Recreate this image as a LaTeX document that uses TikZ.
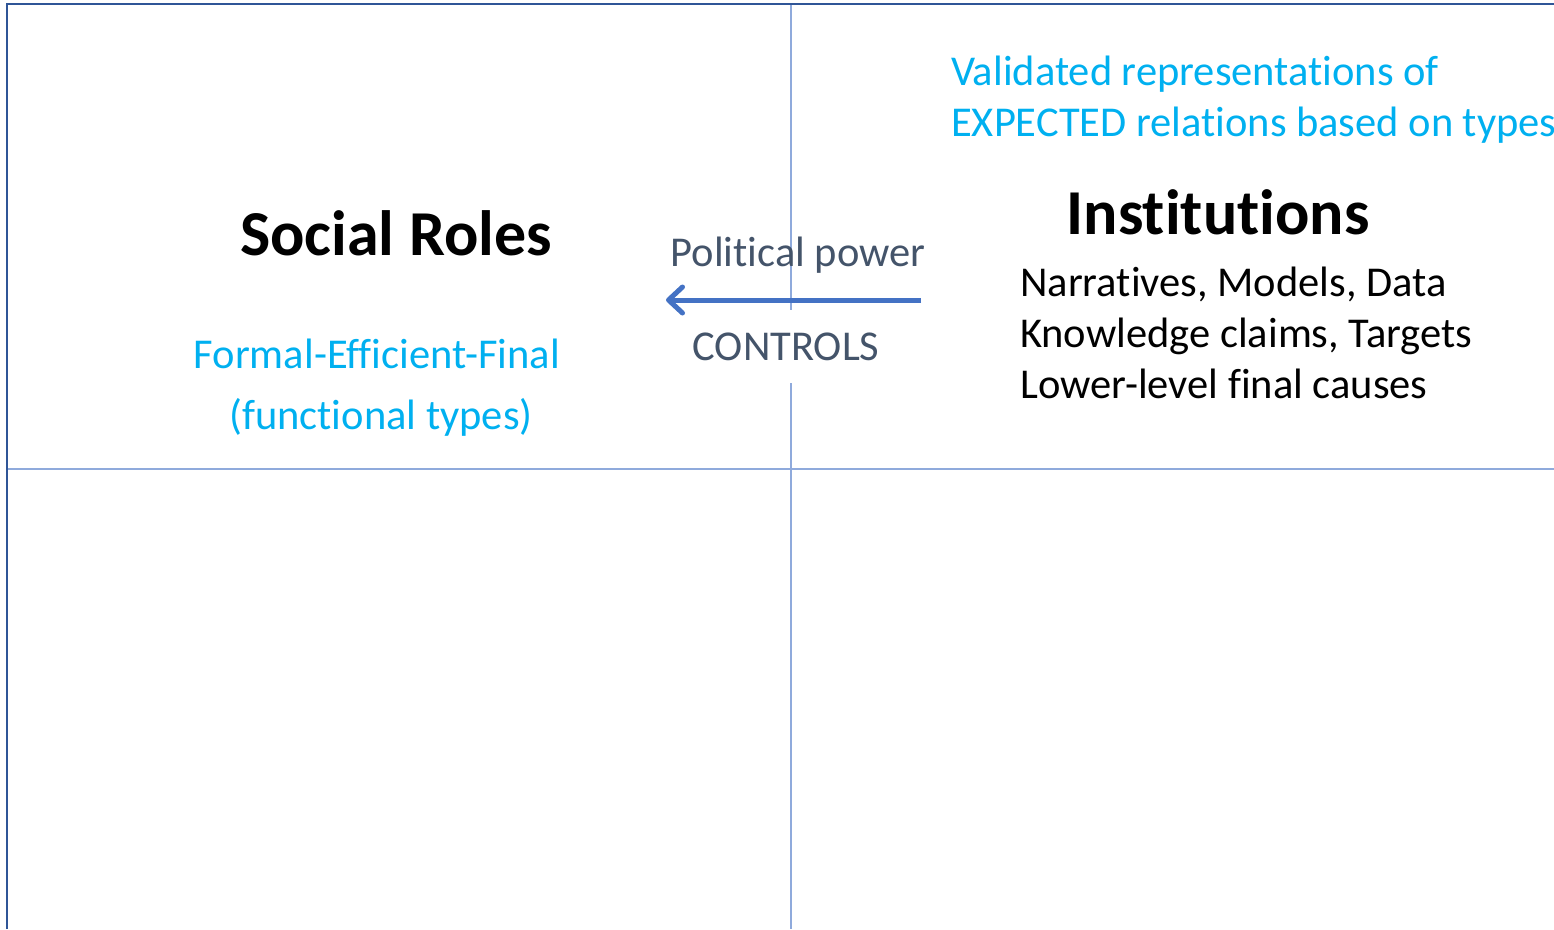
\documentclass[tikz,border=0pt]{standalone}
\usepackage{fontspec}
\setmainfont{Carlito}[Ligatures=NoCommon]
\usetikzlibrary{arrows.meta}
\definecolor{frameblue}{HTML}{2F5597}
\definecolor{gridblue}{HTML}{8FAADC}
\definecolor{arrowblue}{HTML}{4472C4}
\definecolor{cyantext}{HTML}{00B0F0}
\definecolor{slatetext}{HTML}{44546A}
\tikzset{
  txt/.style={inner sep=0pt, anchor=base west, font=\fontsize{42.5}{51}\selectfont},
  txtc/.style={inner sep=0pt, anchor=base, font=\fontsize{42.5}{51}\selectfont},
  title/.style={inner sep=0pt, anchor=base, font=\fontsize{64}{76}\selectfont\bfseries},
  gridline/.style={draw=gridblue, line width=1.3pt},
  frameline/.style={draw=frameblue, line width=2.8pt},
  powerarrow/.style={draw=arrowblue, line width=5pt,
    -{Straight Barb[length=14pt,width=26pt,line cap=round,line join=round]}}
}
\begin{document}
\begin{tikzpicture}[x=1pt,y=-1pt]
\useasboundingbox (0,0) rectangle (1554,929);
\clip (0,0) rectangle (1554,929);
\fill[white] (0,0) rectangle (1554,929);
% grid
\coordinate (vtop) at (791,4);
\coordinate (vgap1) at (791,310);
\coordinate (vgap2) at (791,383);
\coordinate (vbot) at (791,929);
\coordinate (hl) at (7,469);
\coordinate (hr) at (1554,469);
\draw[gridline] (vtop) -- (vgap1);
\draw[gridline] (vgap2) -- (vbot);
\draw[gridline] (hl) -- (hr);
% frame
\coordinate (fc) at (7,4);
\coordinate (fr) at (1554,4);
\coordinate (fb) at (7,929);
\draw[frameline] (fb) -- (fc) -- (fr);
% texts
\node[txt, text=cyantext] (val1) at (951,85) {Validated representations of};
\node[txt, text=cyantext] (val2) at (951,136) {EXPECTED relations based on types};
\node[title] (inst) at (1218,234) {Institutions};
\node[txt] (nar) at (1020,296) {Narratives, Models, Data};
\node[txt] (know) at (1020,347) {Knowledge claims, Targets};
\node[txt] (low) at (1020,398) {Lower-level final causes};
\node[title] (soc) at (396,255) {Social Roles};
\node[txtc, text=cyantext] (form) at (377,368) {Formal-Efficient-Final};
\node[txtc, text=cyantext] (func) at (381,429) {(functional types)};
\node[txtc, text=slatetext] (pol) at (798,266) {Political power};
\node[txtc, text=slatetext] (ctrl) at (786,360) {CONTROLS};
% arrow
\coordinate (astart) at (921,300);
\coordinate (aend) at (666,300);
\draw[powerarrow] (astart) -- (aend);
\end{tikzpicture}
\end{document}
